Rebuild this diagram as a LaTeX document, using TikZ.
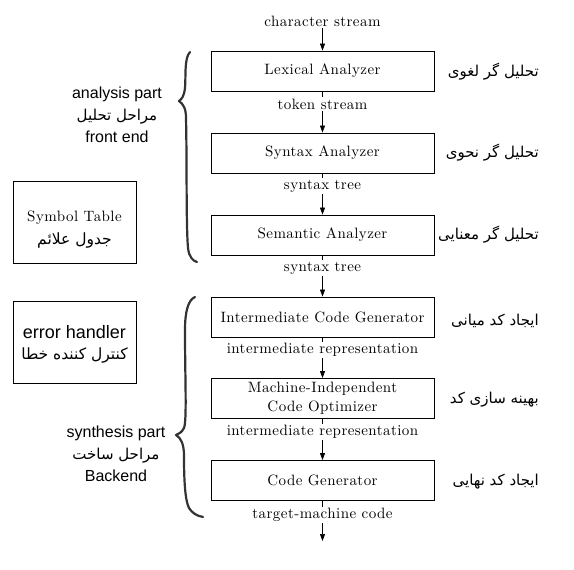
\documentclass[tikz,border=0pt]{standalone}
\usepackage{fontspec}
\usetikzlibrary{arrows.meta}
\TeXXeTstate=1
\newfontfamily\arabicfont[Script=Arabic]{DejaVu Sans}
\newfontfamily\latsans{Liberation Sans}
\newfontfamily\cmten[LetterSpace=3]{lmroman10-regular.otf}
\newcommand\srf{\cmten\fontsize{15}{19}\selectfont}
\newcommand\fa[1]{{\arabicfont\beginR #1\endR}}
\tikzset{
  x=1pt,y=-1pt,
  stagebox/.style={draw,line width=0.8pt,minimum width=223pt,minimum height=40pt,inner sep=0pt,align=center,font=\srf},
  flowlabel/.style={inner sep=1.5pt,font=\srf},
  falabel/.style={anchor=east,font=\fontsize{15}{18}\selectfont,inner sep=0pt},
  flow/.style={line width=0.7pt},
  flowarrow/.style={line width=0.7pt,-{Triangle[length=7pt,width=5pt]}},
  sidebox/.style={draw,line width=0.8pt,minimum width=123pt,minimum height=82pt,inner sep=0pt},
  boxtext/.style={align=center,inner sep=0pt},
  sidetext/.style={align=center,font=\latsans\fontsize{16}{22}\selectfont},
  brace/.style={line width=2.2pt,draw=black!80,line cap=round,line join=round},
}
\begin{document}
\begin{tikzpicture}
\useasboundingbox (0,0) rectangle (574,570);
% flow
\node[flowlabel] (cs) at (322.5,21) {character stream};
\node[stagebox] (lex) at (322.5,71) {Lexical Analyzer};
\node[flowlabel] (ts) at (322.5,104) {token stream};
\node[stagebox] (syn) at (322.5,153) {Syntax Analyzer};
\node[flowlabel] (st1) at (322.5,186) {syntax tree};
\node[stagebox] (sem) at (322.5,235) {Semantic Analyzer};
\node[flowlabel] (st2) at (322.5,268) {syntax tree};
\node[stagebox] (icg) at (322.5,317) {Intermediate Code Generator};
\node[flowlabel] (ir1) at (322.5,350) {intermediate representation};
\node[stagebox] (mio) at (322.5,398.5) {Machine-Independent\\Code Optimizer};
\node[flowlabel] (ir2) at (322.5,432) {intermediate representation};
\node[stagebox] (cg) at (322.5,480.5) {Code Generator};
\node[flowlabel] (tmc) at (322.5,515) {target-machine code};
\coordinate (endpt) at (322.5,541);

\draw[flowarrow] (cs) -- (lex);
\draw[flow] (lex) -- (ts);
\draw[flowarrow] (ts) -- (syn);
\draw[flow] (syn) -- (st1);
\draw[flowarrow] (st1) -- (sem);
\draw[flow] (sem) -- (st2);
\draw[flowarrow] (st2) -- (icg);
\draw[flow] (icg) -- (ir1);
\draw[flowarrow] (ir1) -- (mio);
\draw[flow] (mio) -- (ir2);
\draw[flowarrow] (ir2) -- (cg);
\draw[flow] (cg) -- (tmc);
\draw[flowarrow] (tmc) -- (endpt);

% Persian labels
\node[falabel] (fa1) at (539,72) {\fa{تحلیل گر لغوی}};
\node[falabel] (fa2) at (539,153) {\fa{تحلیل گر نحوی}};
\node[falabel] (fa3) at (539,235) {\fa{تحلیل گر معنایی}};
\node[falabel] (fa4) at (539,321) {\fa{ایجاد کد میانی}};
\node[falabel] (fa5) at (539,400) {\fa{بهینه سازی کد}};
\node[falabel] (fa6) at (539,482) {\fa{ایجاد کد نهایی}};

% side boxes
\node[sidebox] (symtab) at (74.5,222) {};
\node[boxtext] (symtabtext) at (74.5,230) {{\srf Symbol Table}\\[7pt]{\fontsize{15.5}{17}\selectfont\fa{جدول علائم}}};
\node[sidebox] (errh) at (74.5,342.5) {};
\node[boxtext] (errhtext) at (74.5,344.5) {{\latsans\fontsize{18}{22}\selectfont error handler}\\[9pt]{\fontsize{15.5}{17}\selectfont\fa{کنترل کننده خطا}}};

% part labels
\node[sidetext] (ana) at (117,115) {analysis part\\{\fontsize{15}{16}\selectfont\fa{مراحل تحلیل}}\\front end};
\node[sidetext] (syn2) at (116,454) {synthesis part\\{\fontsize{15}{16}\selectfont\fa{مراحل ساخت}}\\Backend};

% braces
\draw[brace] (190,52) .. controls (184,58) and (186,78) .. (185,88)
  .. controls (184,96) and (182,99) .. (179,101)
  .. controls (183,104) and (186,108) .. (186,118)
  .. controls (187,160) and (186,225) .. (188,248)
  .. controls (189,257) and (193,261) .. (197,262);
\draw[brace] (195,297) .. controls (188,300) and (185,312) .. (185,330)
  .. controls (185,380) and (187,420) .. (184,428)
  .. controls (182,432) and (179,434) .. (176,435)
  .. controls (181,438) and (184,444) .. (184,456)
  .. controls (184,480) and (185,500) .. (189,508)
  .. controls (192,513) and (197,516) .. (203,517);
\end{tikzpicture}
\end{document}
